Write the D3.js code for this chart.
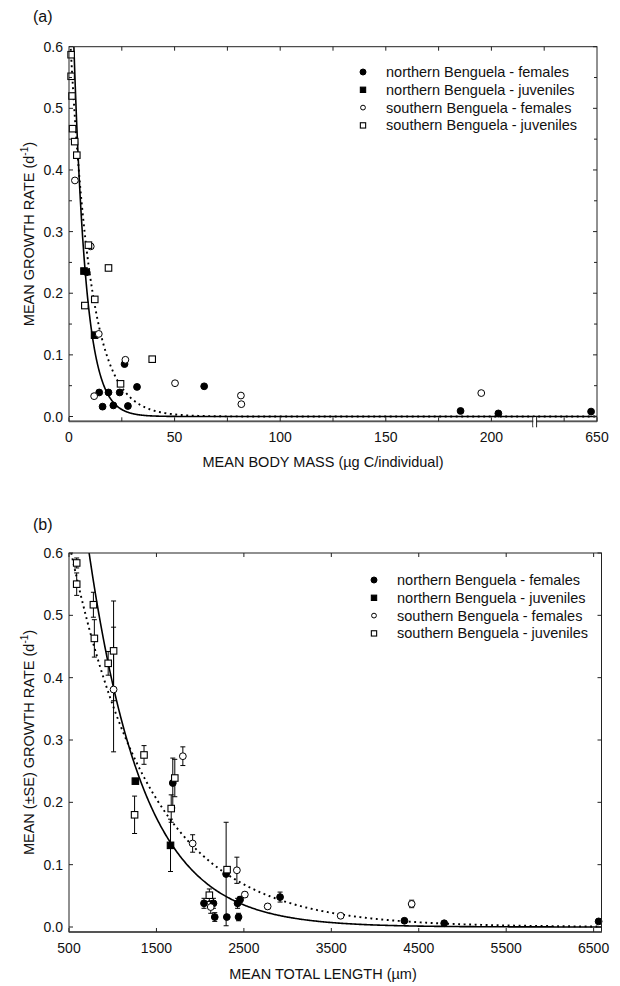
<!DOCTYPE html>
<html>
<head>
<meta charset="utf-8">
<script src="https://cdn.jsdelivr.net/npm/d3@7"></script>
<style>
  body { margin: 0; background: #fff; }
  text { font-family: "Liberation Sans", Arial, Helvetica, sans-serif; fill: #111; }
</style>
</head>
<body>
<svg id="fig" width="620" height="986"></svg>
<script>
// ---------- Panel (a): growth rate vs body mass ----------
// [body mass (µg C/individual), growth rate (d^-1)]
const aNorthFemales = [[8.4,0.234],[26.3,0.085],[14.3,0.039],[18.7,0.039],[24.0,0.039],[32.2,0.048],
  [64.0,0.049],[15.9,0.016],[21.0,0.018],[27.9,0.017],[185.4,0.009],[203.3,0.005],[641,0.008]];
const aNorthJuveniles = [[7.1,0.236],[12.1,0.132]];
const aSouthFemales = [[2.8,0.383],[10.3,0.276],[14.1,0.134],[26.7,0.092],[50.2,0.054],[81.4,0.034],
  [81.6,0.020],[11.9,0.033],[195.2,0.038]];
const aSouthJuveniles = [[1.0,0.587],[1.0,0.552],[1.4,0.520],[1.7,0.467],[2.7,0.446],[3.7,0.424],
  [9.2,0.278],[18.7,0.241],[12.2,0.190],[7.5,0.180],[39.4,0.093],[24.4,0.053]];
// exponential fits g = a * exp(-b * mass): [a, b]
const aFitNorth = [0.90, 0.175];
const aFitSouth = [0.65, 0.105];
const aXTicks = [0, 50, 100, 150, 200, 650];
const aXMinor = [25, 75, 125, 175, 600];

// ---------- Panel (b): growth rate vs total length ----------
// [total length (µm), growth rate (d^-1), SE]
const bNorthFemales = [[1687,0.231,0.040],[2297,0.085,0.083],[2044,0.038,0.008],[2152,0.038,0.008],
  [2167,0.016,0.007],[2305,0.016,0],[2439,0.016,0.006],[2428,0.038,0.008],[2457,0.044,0.005],
  [2914,0.048,0.008],[4336,0.010,0],[4791,0.006,0],[6557,0.009,0]];
const bNorthJuveniles = [[1259,0.234,0],[1661,0.131,0.042]];
const bSouthFemales = [[1010,0.381,0.100],[1802,0.274,0.015],[1914,0.134,0.014],[2420,0.091,0.021],
  [2121,0.032,0.010],[2511,0.052,0.004],[2772,0.033,0.004],[3607,0.018,0.003],[4419,0.037,0.006]];
const bSouthJuveniles = [[588,0.584,0.008],[588,0.550,0.018],[779,0.517,0.020],[790,0.463,0.030],
  [948,0.423,0.019],[1010,0.443,0.080],[1358,0.276,0.015],[1250,0.180,0.030],[1710,0.239,0.030],
  [1669,0.190,0.022],[2308,0.092,0],[2105,0.051,0.010]];
// exponential fits g = a * exp(-b * length): [a, b]
const bFitNorth = [1.93, 0.0016];
const bFitSouth = [1.07, 0.0011];
const bXTicks = [500, 1500, 2500, 3500, 4500, 5500, 6500];

const yTicks = [0, 0.1, 0.2, 0.3, 0.4, 0.5, 0.6];
const yMinor = [0.05, 0.15, 0.25, 0.35, 0.45, 0.55];

const legendLabels = ["northern Benguela - females", "northern Benguela - juveniles",
  "southern Benguela - females", "southern Benguela - juveniles"];
const legendKinds = ["fc", "fs", "oc", "os"];

const svg = d3.select("#fig");

function marker(g, kind, x, y, r, s) {
  if (kind === "fc" || kind === "oc") {
    g.append("circle").attr("cx", x).attr("cy", y).attr("r", r)
      .attr("fill", kind === "fc" ? "#000" : "#fff").attr("stroke", "#000").attr("stroke-width", 1);
  } else {
    g.append("rect").attr("x", x - s / 2).attr("y", y - s / 2).attr("width", s).attr("height", s)
      .attr("fill", kind === "fs" ? "#000" : "#fff").attr("stroke", "#000").attr("stroke-width", 1.1);
  }
}

function panel(opt) {
  const g = svg.append("g");
  const { x, xPos, y, left, right, top, bottom } = opt;

  // clip for curves
  const clipId = "clip" + opt.id;
  svg.append("clipPath").attr("id", clipId).append("rect")
    .attr("x", left).attr("y", top).attr("width", right - left).attr("height", bottom - top);

  // fitted curves
  const line = d3.line().x(d => x(d[0])).y(d => y(d[1]));
  const fitPts = (p) => opt.curveX.map(v => [v, p[0] * Math.exp(-p[1] * v)]);
  g.append("path").attr("clip-path", `url(#${clipId})`)
    .attr("d", line(fitPts(opt.fitSouth)))
    .attr("fill", "none").attr("stroke", "#000").attr("stroke-width", 1.9)
    .attr("stroke-dasharray", "1.9,3.6");
  g.append("path").attr("clip-path", `url(#${clipId})`)
    .attr("d", line(fitPts(opt.fitNorth)))
    .attr("fill", "none").attr("stroke", "#000").attr("stroke-width", 1.6);

  // error bars
  opt.series.forEach(s => s.data.forEach(d => {
    if (d.length > 2 && d[2] > 0) {
      const cx = x(d[0]), y1 = y(d[1] + d[2]), y2 = y(d[1] - d[2]);
      g.append("line").attr("x1", cx).attr("x2", cx).attr("y1", y1).attr("y2", y2)
        .attr("stroke", "#000").attr("stroke-width", 1);
      [y1, y2].forEach(yy => g.append("line").attr("x1", cx - 2.5).attr("x2", cx + 2.5)
        .attr("y1", yy).attr("y2", yy).attr("stroke", "#000").attr("stroke-width", 1));
    }
  }));

  // points
  opt.series.forEach(s => s.data.forEach(d => marker(g, s.kind, x(d[0]), y(d[1]), 3.4, 6.5)));

  // frame
  g.append("rect").attr("x", left).attr("y", top).attr("width", right - left).attr("height", bottom - top)
    .attr("fill", "none").attr("stroke", "#222").attr("stroke-width", 1);
  g.append("line").attr("x1", left).attr("x2", right).attr("y1", bottom).attr("y2", bottom)
    .attr("stroke", "#555").attr("stroke-width", 1.8);

  // ticks (inward, all four sides)
  const tick = (x1, y1, x2, y2) => g.append("line").attr("x1", x1).attr("y1", y1)
    .attr("x2", x2).attr("y2", y2).attr("stroke", "#222").attr("stroke-width", 1);
  opt.yMajor.concat(opt.yMinor).forEach(v => {
    const yy = y(v);
    const len = opt.yMajor.includes(v) ? 4 : 3;
    tick(left, yy, left + len, yy);
    tick(right, yy, right - len, yy);
  });
  opt.xBottom.forEach(v => tick(x(v), bottom, x(v), bottom - 4));
  opt.xTop.forEach(v => tick(xPos(v), top, xPos(v), top + 4));

  // tick labels
  opt.yMajor.forEach(v => g.append("text").attr("x", left - 6).attr("y", y(v) + 5)
    .attr("text-anchor", "end").attr("font-size", 14).text(d3.format(".1f")(v)));
  opt.xLabels.forEach(v => g.append("text").attr("x", x(v)).attr("y", opt.xLabelY)
    .attr("text-anchor", "middle").attr("font-size", 14).text(v));

  // axis titles
  g.append("text").attr("x", 323).attr("y", opt.xTitleY).attr("text-anchor", "middle")
    .attr("font-size", 14.5).text(opt.xTitle);
  const yt = g.append("text").attr("transform", `translate(33.5,${(top + bottom) / 2}) rotate(-90)`)
    .attr("text-anchor", "middle").attr("font-size", 14.5);
  yt.append("tspan").text(opt.yTitle + " (d");
  yt.append("tspan").attr("font-size", 10).attr("dy", -6).text("-1");
  yt.append("tspan").attr("dy", 6).text(")");

  // panel letter
  g.append("text").attr("x", 33).attr("y", opt.letterY).attr("font-size", 16).text(opt.letter);

  // legend
  legendLabels.forEach((lab, i) => {
    const ly = opt.legendY + i * 17.8;
    const k = legendKinds[i];
    marker(g, k, opt.legendX, ly, k === "fc" ? 3 : 2.4, 5.3);
    g.append("text").attr("x", opt.legendX + 23).attr("y", ly + 5).attr("font-size", 14.5).text(lab);
  });
  return g;
}

// ----- panel (a) scales: linear 0–220, axis break, then 560–650 -----
const xPosA = d3.scaleLinear().domain([0, 250]).range([69, 597]);
const xA = d3.scaleLinear().domain([0, 220, 560, 650])
  .range([xPosA(0), xPosA(220), xPosA(222), xPosA(250)]);
const yA = d3.scaleLinear().domain([0, 0.6]).range([416.5, 46.7]);

const gA = panel({
  id: "a", x: xA, xPos: xPosA, y: yA,
  left: xPosA(0), right: xPosA(250), top: yA(0.6), bottom: yA(-0.0078),
  curveX: d3.range(0, 220.01, 0.2).concat([560, 650]),
  fitNorth: aFitNorth, fitSouth: aFitSouth,
  series: [
    { kind: "fc", data: aNorthFemales }, { kind: "fs", data: aNorthJuveniles },
    { kind: "oc", data: aSouthFemales }, { kind: "os", data: aSouthJuveniles }
  ],
  yMajor: yTicks, yMinor: yMinor,
  xBottom: aXTicks.concat(aXMinor), xTop: d3.range(25, 250, 25),
  xLabels: aXTicks, xLabelY: 442,
  xTitle: "MEAN BODY MASS (µg C/individual)", xTitleY: 467,
  yTitle: "MEAN GROWTH RATE", letter: "(a)", letterY: 22,
  legendX: 363, legendY: 72
});

// axis break marks on the mass axis
[219.6, 221.4].forEach(v => {
  gA.append("line").attr("x1", xPosA(v)).attr("x2", xPosA(v))
    .attr("y1", yA(-0.0078) - 5).attr("y2", yA(-0.0078) + 6).attr("stroke", "#222").attr("stroke-width", 1);
});
gA.append("rect").attr("x", xPosA(219.6) + 0.6).attr("y", yA(-0.0078) - 4)
  .attr("width", xPosA(221.4) - xPosA(219.6) - 1.2).attr("height", 9).attr("fill", "#fff");

// ----- panel (b) scales -----
const xB = d3.scaleLinear().domain([500, 6590]).range([69, 601.5]);
const yB = d3.scaleLinear().domain([0, 0.6]).range([927, 553]);

panel({
  id: "b", x: xB, xPos: xB, y: yB,
  left: xB(500), right: xB(6590), top: yB(0.6), bottom: yB(-0.008),
  curveX: d3.range(500, 6591, 10),
  fitNorth: bFitNorth, fitSouth: bFitSouth,
  series: [
    { kind: "fc", data: bNorthFemales }, { kind: "fs", data: bNorthJuveniles },
    { kind: "oc", data: bSouthFemales }, { kind: "os", data: bSouthJuveniles }
  ],
  yMajor: yTicks, yMinor: [],
  xBottom: bXTicks, xTop: bXTicks,
  xLabels: bXTicks, xLabelY: 953,
  xTitle: "MEAN TOTAL LENGTH (µm)", xTitleY: 979,
  yTitle: "MEAN (±SE) GROWTH RATE", letter: "(b)", letterY: 530,
  legendX: 374, legendY: 580
});
</script>
</body>
</html>
